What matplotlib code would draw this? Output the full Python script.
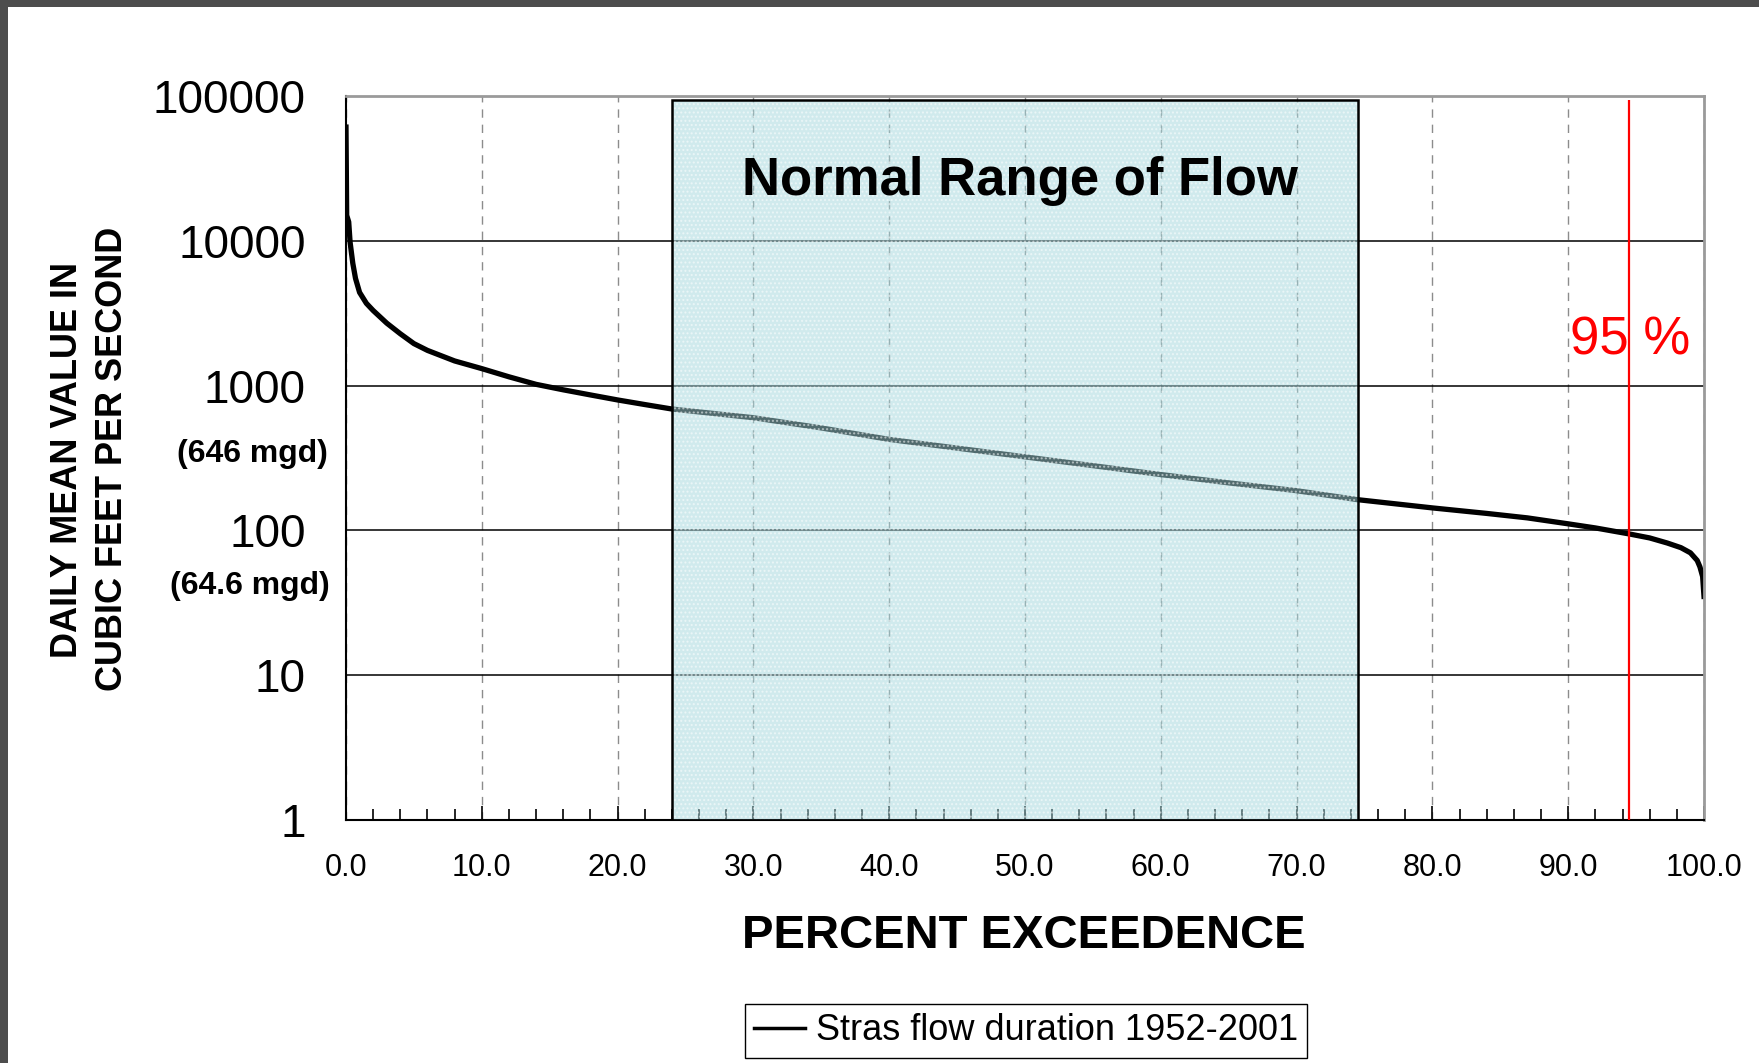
import matplotlib.pyplot as plt
from matplotlib.patches import Rectangle
from matplotlib.lines import Line2D
from matplotlib.ticker import MultipleLocator, FixedLocator, FuncFormatter

plt.rcParams['font.family'] = ['Liberation Sans', 'DejaVu Sans']

# flow duration curve (percent exceedence vs daily mean cfs)
pct = [0.0, 0.05, 0.2, 0.3, 0.5, 0.7, 1.0, 1.5, 2.0, 3.0, 4.0, 5.0, 6.0, 8.0,
       10.0, 12.0, 14.0, 16.0, 18.0, 20.0, 22.0, 24.0, 30.0, 35.0, 40.0, 45.0,
       50.0, 55.0, 60.0, 65.0, 70.0, 74.5, 78.0, 80.0, 84.0, 87.0, 90.0, 92.0,
       94.5, 96.0, 97.3, 98.3, 99.0, 99.5, 99.7, 99.9, 100.0]
flow = [61000, 15000, 13500, 9800, 7000, 5500, 4400, 3700, 3300, 2700, 2280, 1950,
        1750, 1480, 1310, 1150, 1020, 935, 862, 796, 740, 689, 600, 510, 425, 370,
        322, 280, 243, 213, 188, 163, 150, 143, 131, 122, 111, 104,
        94.5, 88.7, 81.8, 76, 70, 62, 56, 48, 35]

normal_lo = 24.0      # normal range of flow
normal_hi = 74.5
box_top = 93800
p95 = 94.5            # 95 % exceedence marker

fig = plt.figure(figsize=(17.59, 10.63), dpi=100)
ax = fig.add_axes([346 / 1759, 243 / 1063, 1358 / 1759, 724 / 1063])

ax.plot(pct, flow, color='black', lw=3.8, zorder=2)

# shaded box drawn over the curve, like the original
ax.add_patch(Rectangle((normal_lo, 1), normal_hi - normal_lo, box_top - 1,
                       facecolor='#a3d6dc', edgecolor='white', lw=0, hatch='....',
                       alpha=0.5, zorder=3))
ax.add_patch(Rectangle((normal_lo, 1), normal_hi - normal_lo, box_top - 1,
                       facecolor='none', edgecolor='black', lw=1.8, zorder=4))
ax.text((normal_lo + normal_hi) / 2 + 0.35, 26000, 'Normal Range of Flow',
        fontsize=38, fontweight='bold', ha='center', va='center', zorder=5)

ax.vlines(p95, 1, box_top, color='red', lw=1.6, zorder=5)
ax.text(p95 + 0.05, 2050, '95 %', color='red', fontsize=38, ha='center', va='center', zorder=5)

ax.set_yscale('log')
ax.set_ylim(1, 100000)
ax.set_xlim(0, 100)

ax.yaxis.set_major_locator(FixedLocator([1, 10, 100, 1000, 10000, 100000]))
ax.yaxis.set_minor_locator(FixedLocator([]))
ax.yaxis.set_major_formatter(FuncFormatter(lambda v, p: '%d' % v))
ax.xaxis.set_major_locator(MultipleLocator(10))
ax.xaxis.set_minor_locator(MultipleLocator(2))
ax.xaxis.set_major_formatter(FuncFormatter(lambda v, p: '%.1f' % v))

ax.tick_params(axis='y', length=0, pad=29, labelsize=33)
ax.tick_params(axis='x', which='major', direction='in', length=10, width=1.2, pad=24, labelsize=22)
ax.tick_params(axis='x', which='minor', direction='in', length=8, width=1.2)

ax.set_axisbelow(True)
ax.grid(axis='y', which='major', color='black', lw=1.1)
ax.grid(axis='x', which='major', color='#8c8c8c', lw=1.0, linestyle=(0, (6, 5)))

for s in ['left', 'bottom']:
    ax.spines[s].set_color('black')
    ax.spines[s].set_linewidth(1.5)
for s in ['top', 'right']:
    ax.spines[s].set_color('#9a9a9a')
    ax.spines[s].set_linewidth(2)

# axis titles
fig.text(68 / 1759, 1 - 460 / 1063, 'DAILY MEAN VALUE IN', rotation=90, fontsize=26,
         fontweight='bold', ha='center', va='center')
fig.text(112 / 1759, 1 - 459 / 1063, 'CUBIC FEET PER SECOND', rotation=90, fontsize=26,
         fontweight='bold', ha='center', va='center')
fig.text(252 / 1759, 1 - 454 / 1063, '(646 mgd)', fontsize=23, fontweight='bold',
         ha='center', va='center')
fig.text(250 / 1759, 1 - 586 / 1063, '(64.6 mgd)', fontsize=23, fontweight='bold',
         ha='center', va='center')
fig.text(1024 / 1759, 1 - 936 / 1063, 'PERCENT EXCEEDENCE', fontsize=34, fontweight='bold',
         ha='center', va='center')

handle = Line2D([], [], color='black', lw=2.5)
leg = fig.legend([handle], ['Stras flow duration 1952-2001'], loc='center',
                 bbox_to_anchor=(1026 / 1759, 1 - 1031 / 1063), fontsize=26,
                 fancybox=False, framealpha=1, edgecolor='black', borderpad=0.25,
                 handlelength=1.4, handletextpad=0.3)
leg.get_frame().set_linewidth(1.0)

# dark screenshot border on top and left
fig.patches.append(Rectangle((0, 1 - 7 / 1063), 1, 7 / 1063, transform=fig.transFigure,
                             facecolor='#4d4d4d', edgecolor='none'))
fig.patches.append(Rectangle((0, 0), 8 / 1759, 1, transform=fig.transFigure,
                             facecolor='#4d4d4d', edgecolor='none'))

plt.savefig('out.png', dpi=100)
